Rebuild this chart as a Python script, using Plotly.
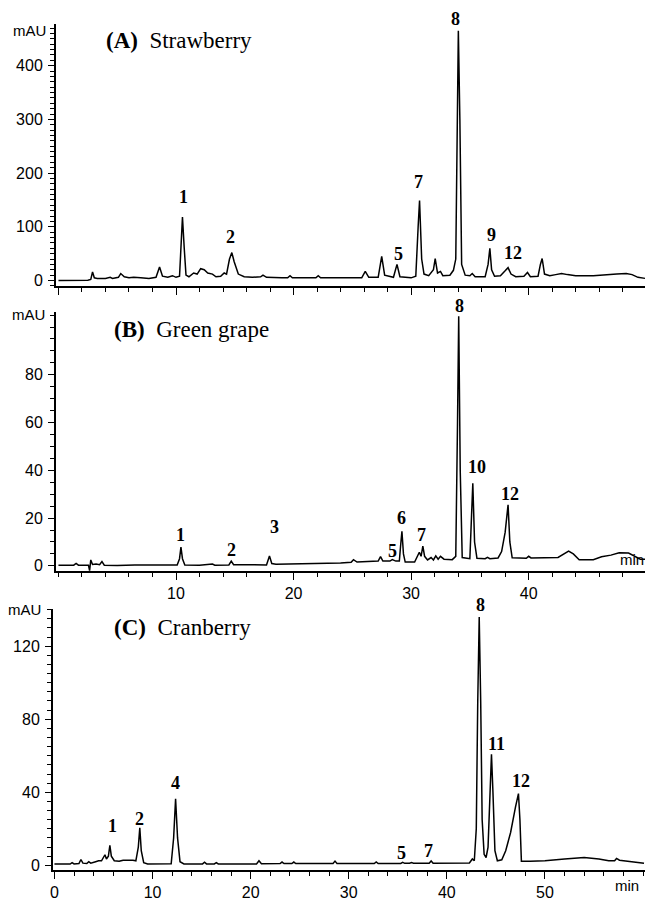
import plotly.graph_objects as go

W, H = 647, 901

# ---------------- Panel A: Strawberry ----------------
a_time = [0.0, 2.5, 2.75, 2.9, 3.05, 3.3, 4.0, 4.4, 4.6, 5.1, 5.3, 5.6, 6.0, 6.4, 7.0, 7.7, 8.3, 8.6, 8.85,
          9.3, 9.7, 10.0, 10.3, 10.45, 10.55, 10.7, 10.85, 11.1, 11.5, 11.8, 12.1, 12.4, 12.7, 13.1, 13.4,
          13.8, 14.1, 14.3, 14.55, 14.75, 14.95, 15.3, 15.8, 16.5, 17.2, 17.4, 17.7, 19.0, 19.5, 19.7, 19.9,
          21.9, 22.1, 22.3, 25.8, 26.1, 26.4, 27.2, 27.5, 27.75, 28.5, 28.8, 29.05, 30.0, 30.4, 30.6, 30.72,
          30.9, 31.1, 31.5, 31.9, 32.05, 32.25, 32.5, 32.7, 33.3, 33.6, 33.8, 33.92, 34.02, 34.15, 34.3, 34.6,
          35.0, 35.2, 35.45, 36.3, 36.55, 36.7, 36.85, 37.1, 37.6, 38.0, 38.25, 38.5, 38.9, 39.6, 39.9, 40.15,
          40.8, 41.0, 41.15, 41.35, 41.8, 42.3, 42.8, 43.3, 44.0, 45.5, 46.5, 47.5, 48.3, 48.8, 49.3, 49.9]
a_mau = [0, 0.5, 2, 16, 5, 4, 4, 6, 4, 6, 13, 7, 5, 6, 5, 4, 6, 25, 8,
         6, 9, 6, 8, 90, 118, 60, 10, 7, 14, 12, 22, 20, 14, 12, 7,
         8, 14, 12, 40, 52, 35, 12, 7, 6, 7, 10, 6, 5, 5, 9, 5,
         5, 9, 5, 5, 17, 6, 6, 45, 10, 6, 30, 7, 5, 8, 100, 149,
         40, 12, 9, 20, 41, 14, 17, 9, 10, 19, 40, 300, 465, 300, 30, 10,
         9, 13, 7, 7, 30, 60, 20, 8, 9, 18, 24, 12, 7, 8, 15, 7,
         8, 30, 41, 12, 9, 11, 13, 11, 9, 9, 11, 12, 13, 11, 6, 4]
a_labels = ["1", "2", "5", "7", "8", "9", "12"]
a_label_time = [10.6, 14.6, 28.9, 30.6, 33.8, 36.8, 38.7]
a_label_mau = [155, 81, 50, 183, 486, 85, 52]

# ---------------- Panel B: Green grape ----------------
b_time = [0.0, 1.3, 1.5, 1.7, 2.55, 2.65, 2.75, 2.9, 3.2, 3.5, 3.7, 3.9, 5.0, 6.5, 10.1, 10.3, 10.42, 10.55,
          10.75, 12.0, 13.1, 13.3, 14.5, 14.7, 14.9, 17.7, 17.95, 18.15, 18.5, 21.0, 24.0, 24.9, 25.1, 25.4,
          26.5, 27.2, 27.4, 27.6, 28.2, 28.4, 28.7, 29.0, 29.1, 29.22, 29.35, 29.5, 30.3, 30.55, 30.7, 30.85,
          31.0, 31.15, 31.4, 31.7, 31.9, 32.1, 32.3, 32.5, 32.8, 33.5, 33.8, 33.95, 34.05, 34.18, 34.35, 35.0,
          35.15, 35.25, 35.4, 35.6, 36.3, 36.5, 36.7, 37.4, 37.7, 38.0, 38.25, 38.4, 38.6, 39.8, 40.0, 40.2,
          42.5, 43.0, 43.4, 43.8, 44.3, 45.5, 46.2, 47.0, 47.7, 48.5, 49.1, 49.5, 49.9]
b_mau = [0.3, 0.3, 1.0, 0.3, 0.3, -2.0, 2.5, 0.6, 0.8, 0.5, 1.8, 0.3, 0.2, 0.4, 0.4, 3, 7.9, 3,
         0.4, 0.3, 0.8, 0.3, 0.4, 2.0, 0.5, 0.4, 4.1, 1.0, 0.7, 0.8, 1.2, 1.5, 2.6, 1.6,
         1.8, 2.0, 3.9, 2.0, 2.0, 2.6, 2.0, 2.0, 8, 14.5, 5, 1.6, 1.6, 4.2, 5.7, 4.0,
         8.3, 4, 2.5, 3.5, 2.5, 4.2, 2.8, 4.0, 2.8, 2.6, 4.0, 60, 104.5, 40, 3.5, 3.0,
         25, 34.6, 10, 3.2, 3.0, 3.6, 3.0, 3.3, 6, 14, 25.6, 10, 3.4, 3.2, 4.0, 3.3,
         3.5, 5, 6.2, 5, 2.6, 2.6, 3.8, 4.5, 5.5, 5.4, 3.8, 2.8, 2.8]
b_labels = ["1", "2", "3", "5", "6", "7", "8", "10", "12"]
b_label_time = [10.4, 14.7, 18.4, 28.4, 29.2, 30.9, 34.1, 35.6, 38.4]
b_label_mau = [12.9, 6.6, 16.3, 6.2, 20.0, 13.1, 108.6, 41.2, 30.2]

# ---------------- Panel C: Cranberry ----------------
c_time = [0.0, 1.6, 1.8, 2.0, 2.5, 2.7, 2.9, 3.3, 3.5, 3.7, 4.2, 4.5, 4.8, 5.0, 5.15, 5.3, 5.5, 5.65, 5.8,
          6.1, 6.6, 7.0, 7.5, 8.0, 8.3, 8.55, 8.7, 8.85, 9.1, 9.5, 11.9, 12.15, 12.35, 12.55, 12.8, 13.2,
          15.1, 15.3, 15.5, 16.3, 16.5, 16.7, 20.6, 20.85, 21.1, 23.0, 23.2, 23.4, 24.2, 24.4, 24.6, 28.4,
          28.6, 28.8, 32.6, 32.8, 33.0, 35.3, 35.5, 35.7, 36.2, 36.4, 36.6, 38.2, 38.4, 38.6, 42.3, 42.6,
          42.8, 43.0, 43.15, 43.3, 43.45, 43.6, 43.8, 44.0, 44.2, 44.4, 44.55, 44.7, 44.9, 45.15, 45.6, 46.0,
          46.5, 47.0, 47.3, 47.45, 47.6, 48.5, 50.0, 52.0, 54.0, 55.5, 56.5, 57.1, 57.3, 57.6, 59.0, 60.1]
c_mau = [0.7, 0.7, 1.5, 0.8, 1.0, 3.2, 1.2, 1.0, 2.0, 1.2, 2, 2.5, 2.5, 4.5, 5.8, 3.5, 5, 11, 5,
         2.5, 2.2, 2.8, 3, 2.8, 2.5, 10, 20.6, 8, 1.5, 0.7, 0.8, 15, 36.5, 15, 2, 0.8,
         0.8, 1.7, 0.8, 0.8, 1.5, 0.8, 0.8, 2.5, 0.9, 1.0, 1.8, 1.0, 1.0, 1.8, 1.0, 1.0,
         2.3, 1.0, 1.0, 1.9, 1.0, 1.0, 1.6, 1.1, 1.2, 1.5, 1.2, 1.2, 2.4, 1.2, 1.3, 3.5,
         2.5, 20, 90, 136, 90, 25, 6, 4.3, 10, 45, 60.8, 40, 8, 2.5, 3, 8,
         18, 32, 39.3, 25, 2.2, 2.2, 2.5, 3.5, 4.3, 3.5, 2.5, 2.5, 3.8, 2.8, 2.0, 1.2]
c_labels = ["1", "2", "4", "5", "7", "8", "11", "12"]
c_label_time = [5.9, 8.65, 12.3, 35.4, 38.1, 43.4, 45.1, 47.6]
c_label_mau = [21.5, 25.5, 45, 7, 8, 142.4, 66.4, 46]

titles = ["(A)", "(B)", "(C)"]
names = ["Strawberry", "Green grape", "Cranberry"]

# ---------------- figure ----------------
fig = go.Figure()
for t, y, xa, ya in [(a_time, a_mau, "x", "y"), (b_time, b_mau, "x2", "y2"), (c_time, c_mau, "x3", "y3")]:
    fig.add_trace(go.Scatter(x=t, y=y, mode="lines", xaxis=xa, yaxis=ya,
                             line=dict(color="black", width=1.5), showlegend=False, hoverinfo="skip"))


def px_x(p):
    return p / W


def px_y(p):
    return 1 - p / H


tickfont = dict(family="Liberation Sans, Arial, sans-serif", size=16, color="black")
common = dict(showline=True, linecolor="black", linewidth=1.5, ticks="outside", tickcolor="black",
              tickwidth=1.2, showgrid=False, zeroline=False, tickfont=tickfont)


def xax(domain, rng, anchor, tickvals, ticktext_show=True):
    d = dict(common)
    d.update(domain=domain, range=rng, anchor=anchor, tickmode="array", tickvals=tickvals,
             ticklen=7, showticklabels=ticktext_show,
             minor=dict(tickmode="linear", tick0=0, dtick=2, ticks="outside", ticklen=4,
                        tickcolor="black", tickwidth=1))
    return d


def yax(domain, rng, anchor, tickvals, minor_dtick):
    d = dict(common)
    d.update(domain=domain, range=rng, anchor=anchor, tickmode="array", tickvals=tickvals,
             ticklen=6, ticklabelstandoff=2,
             minor=dict(tickmode="linear", tick0=0, dtick=minor_dtick, ticks="outside", ticklen=4,
                        tickcolor="black", tickwidth=1))
    return d


ranges = {"y": [-11, 478], "y2": [-2.1, 106.2], "y3": [-2.5, 140.6]}

fig.update_layout(
    width=W, height=H, margin=dict(l=0, r=0, t=0, b=0),
    paper_bgcolor="white", plot_bgcolor="white",
    xaxis=xax([px_x(53), px_x(645)], [-0.23, 49.9], "y", [0, 10, 20, 30, 40], False),
    yaxis=yax([px_y(289), px_y(24)], ranges["y"], "x", [0, 100, 200, 300, 400], 10),
    xaxis2=xax([px_x(53), px_x(645)], [-0.23, 49.9], "y2", [10, 20, 30, 40]),
    yaxis2=yax([px_y(576), px_y(315)], ranges["y2"], "x2", [0, 20, 40, 60, 80], 5),
    xaxis3=xax([px_x(50), px_x(645)], [-0.17, 60.2], "y3", [0, 10, 20, 30, 40, 50]),
    yaxis3=yax([px_y(877.7), px_y(614)], ranges["y3"], "x3", [0, 40, 80, 120], 5),
)

domains = {"y": (289, 24), "y2": (576, 315), "y3": (877.7, 614)}

annotations = []
serif = "Liberation Serif, Times New Roman, serif"
for labels, lt, ly, xr, yr in [(a_labels, a_label_time, a_label_mau, "x", "y"),
                                (b_labels, b_label_time, b_label_mau, "x2", "y2"),
                                (c_labels, c_label_time, c_label_mau, "x3", "y3")]:
    lo, hi = ranges[yr]
    pb, pt = domains[yr]
    ppu = (pb - pt) / (hi - lo)
    for i, (lab, tx, ty) in enumerate(zip(labels, lt, ly)):
        txt = "<b>" + lab + "</b>"
        yy, shift = ty, 0
        cap = hi - 0.01 * (hi - lo)
        if ty > cap:  # keep annotation anchor inside the axis range, shift in pixels
            yy = cap
            shift = (ty - cap) * ppu
        annotations.append(dict(x=tx, y=yy, xref=xr, yref=yr, text=txt, showarrow=False, yshift=shift,
                                font=dict(family=serif, size=18, color="black")))

# panel titles
for ttl, nm, xp, yp in zip(titles, names, [101, 110, 110], [41, 332, 633]):
    annotations.append(dict(x=px_x(xp), y=px_y(yp), xref="paper", yref="paper", xanchor="left",
                            yanchor="middle", text="<b>" + ttl + "</b>\u00a0 " + nm, showarrow=False,
                            font=dict(family=serif, size=23, color="black")))

# mAU labels
for xp, yp in [(45, 31), (44, 317), (40, 615)]:
    annotations.append(dict(x=px_x(xp), y=px_y(yp), xref="paper", yref="paper", xanchor="right",
                            yanchor="middle", text="mAU", showarrow=False,
                            font=dict(family=tickfont["family"], size=15, color="black")))
# min labels
for xp, yp in [(632, 565), (627, 893)]:
    annotations.append(dict(x=px_x(xp), y=px_y(yp), xref="paper", yref="paper", xanchor="center",
                            yanchor="middle", text="min", showarrow=False,
                            font=dict(family=tickfont["family"], size=15, color="black")))

fig.update_layout(annotations=annotations)
fig.write_html("out.html", config={"displayModeBar": False},
               post_script="document.body.style.margin='0';document.body.style.padding='0';")
